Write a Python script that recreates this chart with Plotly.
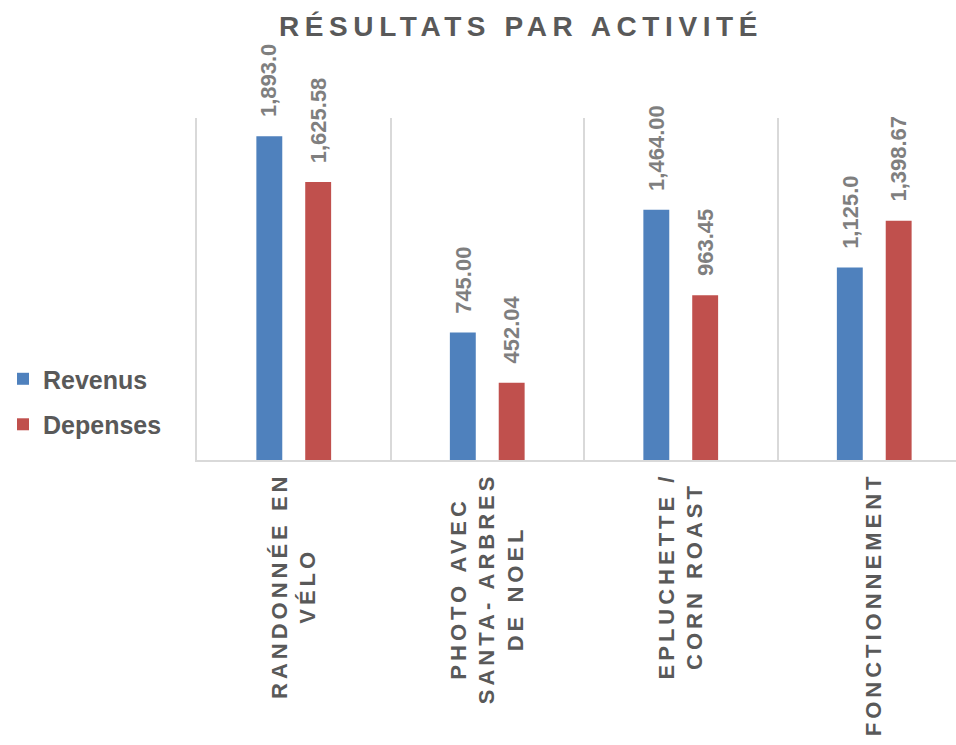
import plotly.graph_objects as go

categories = ["RANDONNÉE EN<br>VÉLO", "PHOTO AVEC<br>SANTA- ARBRES<br>DE NOEL",
              "EPLUCHETTE /<br>CORN ROAST", "FONCTIONNEMENT"]
revenus = [1893.00, 745.00, 1464.00, 1125.00]
depenses = [1625.58, 452.04, 963.45, 1398.67]
revenus_labels = ["1,893.0", "745.00", "1,464.00", "1,125.0"]
depenses_labels = ["1,625.58", "452.04", "963.45", "1,398.67"]

BLUE = "#4F81BD"
RED = "#C0504D"
GRID = "#D9D9D9"
TXT = "#595959"
LBL = "#7F7F7F"
FONT = "Liberation Sans, Arial, sans-serif"

fig = go.Figure()
fig.add_trace(go.Bar(name="Revenus", x=categories, y=revenus, marker_color=BLUE,
                     marker_line_width=0, legendgroup="r"))
fig.add_trace(go.Bar(name="Depenses", x=categories, y=depenses, marker_color=RED,
                     marker_line_width=0, legendgroup="d"))

for vals, labels, shift in ((revenus, revenus_labels, -24.5), (depenses, depenses_labels, 24.5)):
    for c, v, t in zip(categories, vals, labels):
        fig.add_annotation(x=c, y=v, text=t, showarrow=False, textangle=-90,
                           xanchor="center", yanchor="bottom", xshift=shift, yshift=17,
                           font=dict(family=FONT, size=22, color=LBL, weight="bold"))

fig.update_layout(
    width=956, height=745,
    margin=dict(l=197, r=0, t=118, b=285, autoexpand=False),
    paper_bgcolor="white", plot_bgcolor="white",
    barmode="group", bargap=0.495, bargroupgap=0.47,
    title=dict(text="RÉSULTATS PAR ACTIVITÉ", xref="container", x=521/956, xanchor="center",
               yref="container", y=1 - 16/745, yanchor="top",
               font=dict(family=FONT, size=28, color=TXT, weight="bold")),
    legend=dict(x=-0.2556, xanchor="left", y=0.304, yanchor="top",
                font=dict(family=FONT, size=25, color=TXT, weight="bold"),
                traceorder="grouped", tracegroupgap=10, bgcolor="rgba(0,0,0,0)"),
    xaxis=dict(type="category", range=[-0.5, 3.4225], tickson="boundaries",
               showgrid=True, gridcolor=GRID, gridwidth=1.5,
               showline=True, linecolor=GRID, linewidth=1.5,
               ticks="", tickangle=-90, ticklabelstandoff=2,
               tickfont=dict(family=FONT, size=22, color=TXT, weight="bold")),
    yaxis=dict(range=[0, 2000], showgrid=False, zeroline=False, showticklabels=False,
               showline=True, linecolor=GRID, linewidth=1.5, ticks=""),
    showlegend=True,
)

post = """
document.body.style.margin = '0';
document.body.style.overflow = 'hidden';
var gd = document.getElementById('{plot_id}');
function fixText(){
  gd.querySelectorAll('.gtitle').forEach(function(t){ t.style.letterSpacing = '5.6px'; });
  gd.querySelectorAll('g.xtick > text').forEach(function(t){
    t.style.letterSpacing = '4px';
    var lines = t.querySelectorAll('tspan.line');
    if (lines.length > 1) {
      var lens = [], mx = 0;
      lines.forEach(function(l){ var L = l.getComputedTextLength(); lens.push(L); if (L > mx) mx = L; });
      lines.forEach(function(l, i){
        var x = parseFloat(l.getAttribute('x'));
        l.setAttribute('x', x - (mx - lens[i]) / 2);
      });
    }
  });
}
fixText();
"""

fig.write_html("out.html", post_script=post, config={"displayModeBar": False})
